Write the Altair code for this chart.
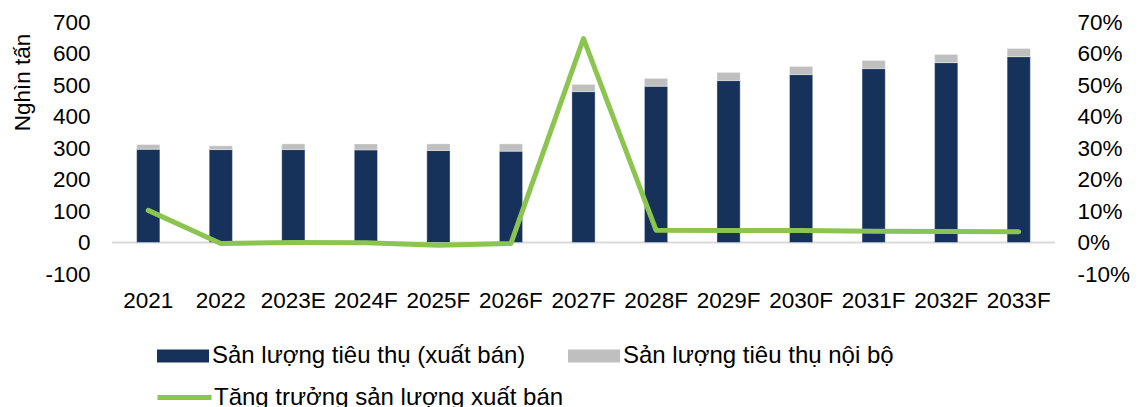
import altair as alt
import pandas as pd

years = ["2021", "2022", "2023E", "2024F", "2025F", "2026F", "2027F",
         "2028F", "2029F", "2030F", "2031F", "2032F", "2033F"]
sales = [296, 295, 295, 294, 292, 290, 479, 496, 514, 533, 552, 571, 590]
internal = [15, 12, 18, 19, 21, 23, 23, 25, 26, 26, 26, 26, 26]
growth = [0.102, -0.003, 0.000, -0.001, -0.009, -0.003, 0.647,
          0.039, 0.038, 0.038, 0.036, 0.035, 0.034]

S1 = "Sản lượng tiêu thụ (xuất bán)"
S2 = "Sản lượng tiêu thụ nội bộ"
S3 = "Tăng trưởng sản lượng xuất bán"

rows = []
for y, a, b in zip(years, sales, internal):
    rows.append({"year": y, "series": S1, "value": a, "ord": 0})
    rows.append({"year": y, "series": S2, "value": b, "ord": 1})
bars_df = pd.DataFrame(rows)
line_df = pd.DataFrame({"year": years, "growth": growth, "series": S3})

FONT = "Liberation Sans"
W, H = 943, 252
AX = 22.5
LG = 24

xenc = alt.X("year:N", sort=years, title=None,
             scale=alt.Scale(paddingInner=0.68, paddingOuter=0.34),
             axis=alt.Axis(labelAngle=0, labelFontSize=AX, labelColor="#000000",
                           labelFont=FONT, domain=False, ticks=False,
                           labelPadding=15, labelOverlap=False))

bars = alt.Chart(bars_df).mark_bar(stroke="#ffffff", strokeWidth=0.6, strokeOpacity=0.6).encode(
    x=xenc,
    y=alt.Y("sum(value):Q", title="Nghìn tấn",
            scale=alt.Scale(domain=[-100, 700], nice=False, zero=False),
            axis=alt.Axis(orient="left", values=list(range(-100, 701, 100)),
                          labelExpr="datum.value < 0 ? '-' + format(-datum.value, 'd') : format(datum.value, 'd')",
                          grid=False, domain=False, ticks=False,
                          labelFontSize=AX, labelFont=FONT, labelColor="#000000",
                          labelPadding=22, titleFont=FONT, titleFontSize=AX,
                          titleFontWeight="normal", titleColor="#000000",
                          titleAngle=-90, titleX=-90, titleY=60,
                          titleAlign="center", titleBaseline="middle")),
    color=alt.Color("series:N",
                    scale=alt.Scale(domain=[S1, S2], range=["#17325A", "#BFBFBF"]),
                    legend=alt.Legend(title=None, orient="none", direction="horizontal",
                                      legendX=58, legendY=321,
                                      symbolType="M-2,-0.5H2V0.5H-2Z",
                                      symbolSize=676, symbolStrokeWidth=0,
                                      symbolOpacity=1,
                                      labelFont=FONT, labelFontSize=LG, labelLimit=600,
                                      labelColor="#000000", labelOffset=16,
                                      columnPadding=42, padding=0)),
    order=alt.Order("ord:Q", sort="ascending"),
)

zero = alt.Chart(pd.DataFrame({"v": [0]})).mark_rule(color="#D9D9D9", strokeWidth=2).encode(
    y=alt.Y("v:Q", scale=alt.Scale(domain=[-100, 700], nice=False, zero=False), axis=None),
    x=alt.value(0), x2=alt.value(W),
)

line = alt.Chart(line_df).mark_line(strokeWidth=5, strokeCap="round", strokeJoin="round").encode(
    x=alt.X("year:N", sort=years),
    y=alt.Y("growth:Q", title=None,
            scale=alt.Scale(domain=[-0.1, 0.7], nice=False, zero=False),
            axis=alt.Axis(orient="right", values=[i / 10 for i in range(-1, 8)],
                          labelExpr="datum.value < 0 ? '-' + format(-datum.value, '.0%') : format(datum.value, '.0%')",
                          grid=False, domain=False, ticks=False,
                          labelFontSize=AX, labelFont=FONT, labelColor="#000000",
                          labelPadding=22)),
    stroke=alt.Stroke("series:N",
                      scale=alt.Scale(domain=[S3], range=["#8BC550"]),
                      legend=alt.Legend(title=None, orient="none",
                                        legendX=43, legendY=346,
                                        symbolType="stroke", symbolSize=2916,
                                        symbolStrokeWidth=5,
                                        labelFont=FONT, labelFontSize=LG, labelLimit=600,
                                        labelColor="#000000", labelOffset=0,
                                        padding=0)),
)

chart = alt.layer(zero, bars, line).resolve_scale(
    y="independent", color="independent", stroke="independent"
).properties(
    width=W, height=H,
    autosize=alt.AutoSizeParams(type="none"),
    padding={"left": 104, "top": 14, "right": 75, "bottom": 133},
).configure_view(stroke=None)

chart.save("out.html", embed_options={"renderer": "svg", "actions": False})
